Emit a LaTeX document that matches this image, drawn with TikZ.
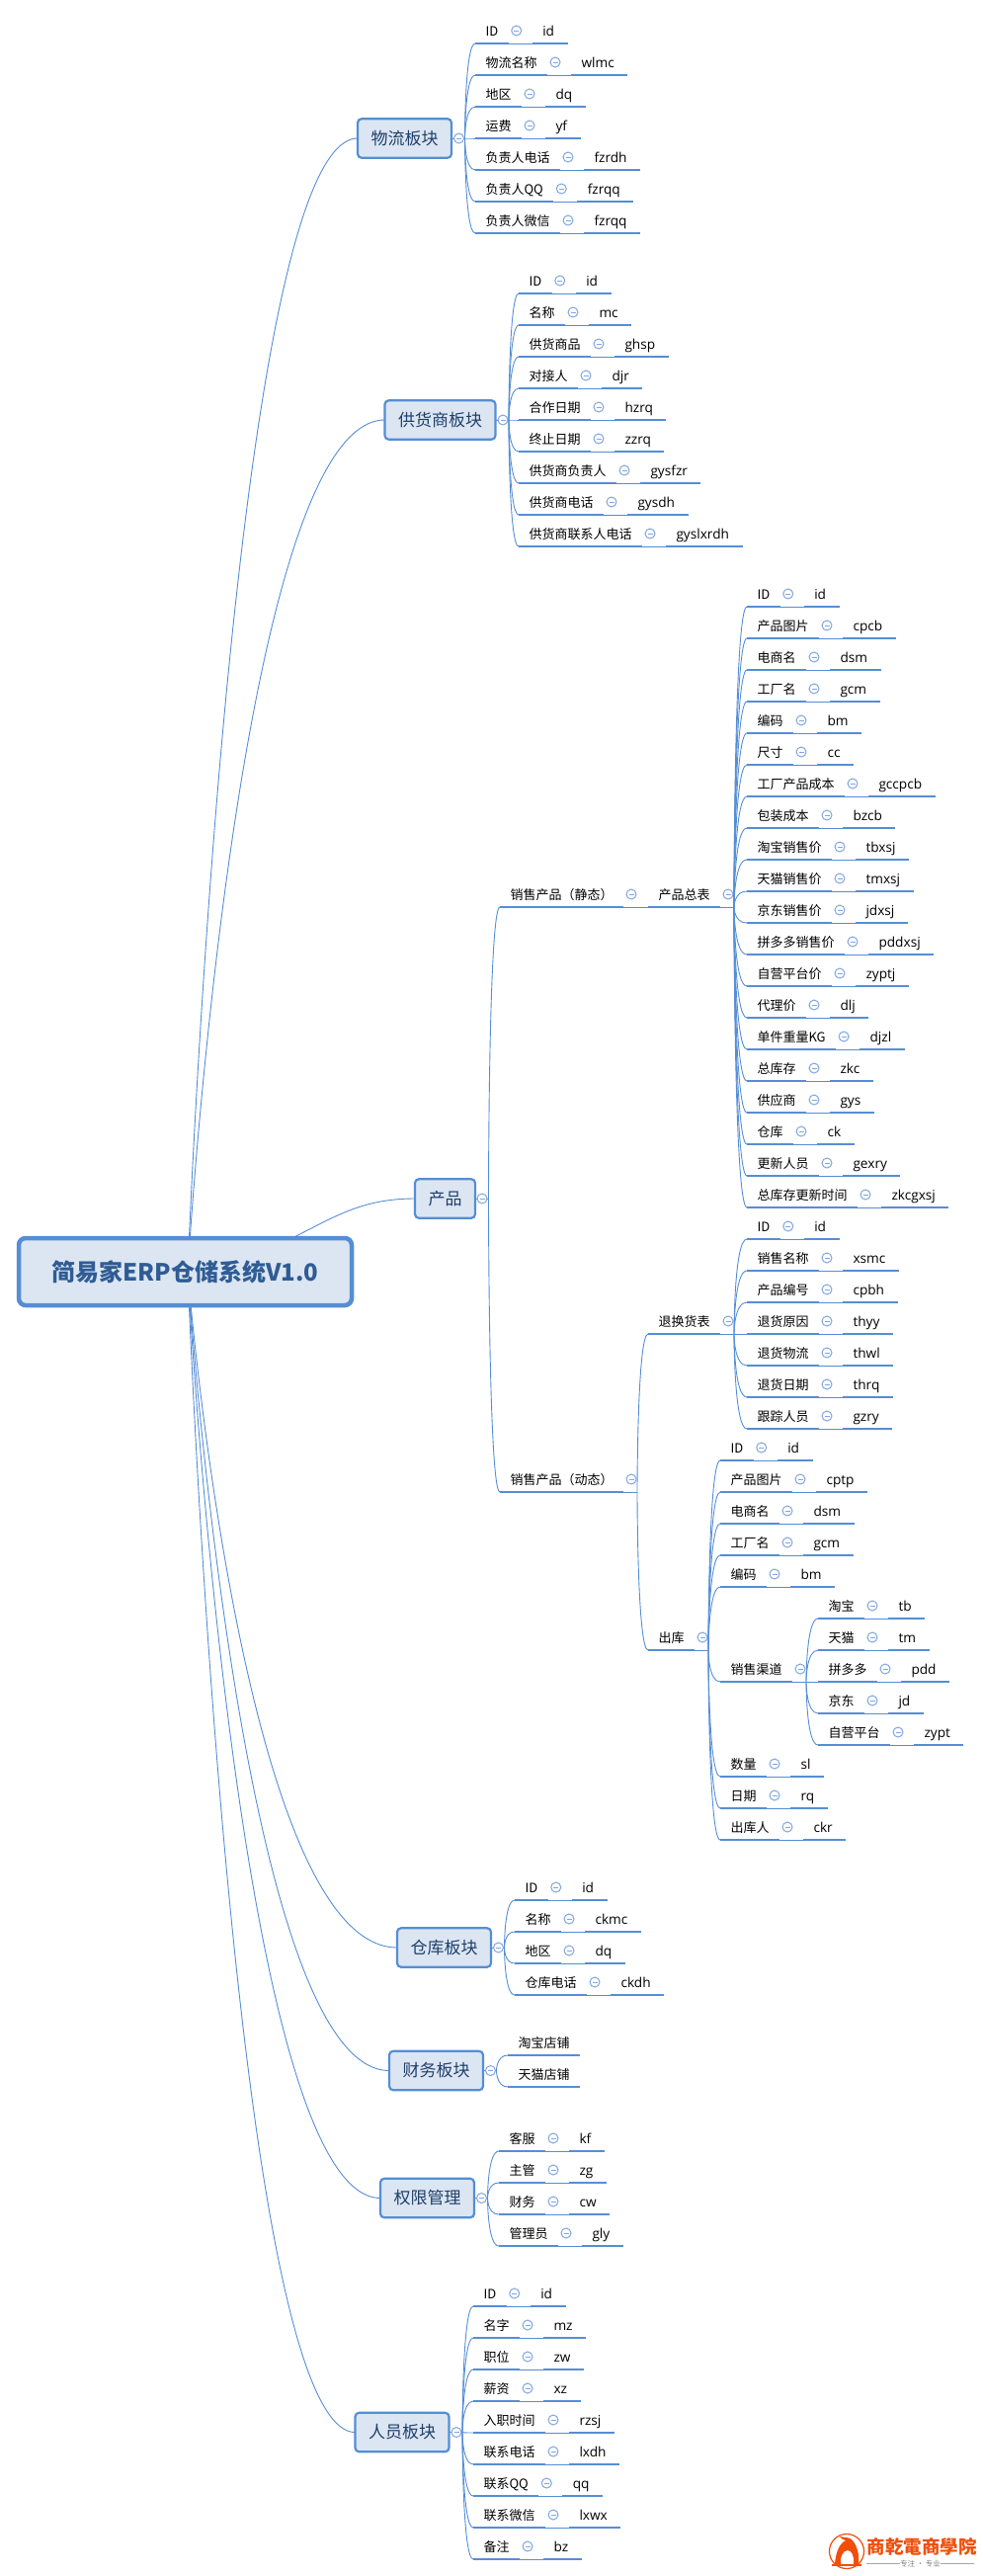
\documentclass[tikz,border=0pt]{standalone}
\usepackage{fontspec}
\setmainfont{Noto Sans CJK SC}
\newfontfamily\valfont{Open Sans}[Scale=1.05]
\definecolor{mapblue}{HTML}{558ED5}
\definecolor{mapfill}{HTML}{DCE6F2}
\definecolor{foldblue}{HTML}{7FA6E0}
\definecolor{topicink}{HTML}{1F3F6B}
\definecolor{rootink}{HTML}{2F5C94}
\definecolor{logored}{HTML}{F04E0A}
\tikzset{
  rowtext/.style={anchor=south west,font=\fontsize{13}{15}\selectfont,inner xsep=10.5pt,inner ysep=5pt,
    outer sep=0pt,text height=10pt,text depth=3pt},
  valtext/.style={rowtext,font=\valfont\fontsize{13}{15}\selectfont},
  topicbox/.style={draw=mapblue,fill=mapfill,line width=2.2pt,rounded corners=4pt,text=topicink,
    font=\fontsize{17}{20}\selectfont,minimum height=39.5pt,inner xsep=13.5pt,outer sep=0pt},
  rootbox/.style={draw=mapblue,fill=mapfill,line width=4.5pt,rounded corners=7pt,text=rootink,
    font=\fontsize{24}{28}\selectfont\bfseries,minimum width=337pt,minimum height=68pt,outer sep=0pt},
  rowline/.style={draw=mapblue,line width=2.6pt},
  thinline/.style={draw=mapblue,line width=0.9pt},
  link/.style={draw=mapblue,line width=0.9pt},
  foldmark/.style={circle,draw=foldblue,fill=white,line width=1pt,minimum size=10pt,inner sep=0pt,
    path picture={\draw[foldblue,line width=1pt] ([xshift=-2.5pt]path picture bounding box.center)
      -- ([xshift=2.5pt]path picture bounding box.center);}},
}
% row: name, x, underline y, bus, label
\newcommand{\rowbase}[5]{
  \node[rowtext] (#1) at (#2,#3) {#5};
  \draw[link] (#4) .. controls (#4) and (#4 |- #1.south west) .. (#1.south west);
  \draw[rowline] (#1.south west) -- (#1.south east);
}
% row with its value: name, x, y, bus, label, value
\newcommand{\leaf}[6]{
  \rowbase{#1}{#2}{#3}{#4}{#5}
  \node[valtext] (#1v) at ([xshift=24pt]#1.south east) {#6\hspace*{3pt}};
  \draw[thinline] (#1.south east) -- (#1v.south west);
  \draw[rowline] (#1v.south west) -- (#1v.south east);
  \node[foldmark] (#1m) at ([xshift=8pt,yshift=13pt]#1.south east) {};
}
% row with branches after it: name, x, y, bus, label, its own bus
\newcommand{\stem}[6]{
  \rowbase{#1}{#2}{#3}{#4}{#5}
  \coordinate (#6) at ([xshift=14pt]#1.south east);
  \draw[thinline] (#1.south east) -- (#6);
  \node[foldmark] (#1m) at ([xshift=8pt,yshift=13pt]#1.south east) {};
}
% block of rows 32 apart: prefix, x, first y, bus, list
\newcommand{\rows}[5]{
  \foreach \lab/\val [count=\i, evaluate=\i as \rowy using #3+32*(\i-1)] in {#5} {
    \leaf{#1\i}{#2}{\rowy}{#4}{\lab}{\val}
  }
}
% topic: name, centre x, centre y, label, bus, control x of the link
\newcommand{\topic}[6]{
  \node[topicbox] (#1) at (#2,#3) {#4};
  \draw[link] (rootc) .. controls (rootc) and (#6,#3) .. (#1.west);
  \coordinate (#5) at ([xshift=13.5pt]#1.east);
  \draw[thinline] (#1.east) -- (#5);
  \node[foldmark] (#1m) at ([xshift=7.5pt]#1.east) {};
}
\begin{document}
\begin{tikzpicture}[x=1pt,y=-1pt]
  \useasboundingbox (0,0) rectangle (994,2607);
  \coordinate (rootc) at (190,1287);

  % topics
  \topic{wuliu}{409.5}{140}{物流板块}{wlbus}{234}
  \topic{gonghuo}{445.5}{425}{供货商板块}{ghbus}{241}
  \node[topicbox] (chanpin) at (450.5,1213) {产品};
  \draw[link] (rootc) .. controls (312,1266) and (330,1213) .. (chanpin.west);
  \coordinate (cpbus) at ([xshift=13.5pt]chanpin.east);
  \draw[thinline] (chanpin.east) -- (cpbus);
  \node[foldmark] (chanpinm) at ([xshift=7pt]chanpin.east) {};
  \topic{cangku}{449.5}{1971}{仓库板块}{ckbus}{245}
  \topic{caiwu}{441.5}{2095.5}{财务板块}{cwbus}{243}
  \topic{quanxian}{432.5}{2224.5}{权限管理}{qxbus}{240}
  \topic{renyuan}{407}{2461.5}{人员板块}{rybus}{234}

  \rows{wl}{481}{44}{wlbus}{ID/id,物流名称/wlmc,地区/dq,运费/yf,负责人电话/fzrdh,负责人QQ/fzrqq,负责人微信/fzrqq}
  \rows{gh}{525}{297}{ghbus}{ID/id,名称/mc,供货商品/ghsp,对接人/djr,合作日期/hzrq,终止日期/zzrq,供货商负责人/gysfzr,供货商电话/gysdh,供货商联系人电话/gyslxrdh}

  % product branches
  \stem{jt}{506}{918}{cpbus}{销售产品（静态）}{jtbus}
  \stem{zb}{656}{918}{jtbus}{产品总表}{zbbus}
  \rows{zb}{756}{614}{zbbus}{ID/id,产品图片/cpcb,电商名/dsm,工厂名/gcm,编码/bm,尺寸/cc,工厂产品成本/gccpcb,包装成本/bzcb,淘宝销售价/tbxsj,天猫销售价/tmxsj,京东销售价/jdxsj,拼多多销售价/pddxsj,自营平台价/zyptj,代理价/dlj,单件重量KG/djzl,总库存/zkc,供应商/gys,仓库/ck,更新人员/gexry,总库存更新时间/zkcgxsj}

  \stem{dt}{506}{1510}{cpbus}{销售产品（动态）}{dtbus}
  \stem{th}{656}{1350}{dtbus}{退换货表}{thbus}
  \rows{th}{756}{1254}{thbus}{ID/id,销售名称/xsmc,产品编号/cpbh,退货原因/thyy,退货物流/thwl,退货日期/thrq,跟踪人员/gzry}

  \stem{cku}{656}{1670}{dtbus}{出库}{cobus}
  \rows{coa}{729}{1478}{cobus}{ID/id,产品图片/cptp,电商名/dsm,工厂名/gcm,编码/bm}
  \stem{qd}{729}{1702}{cobus}{销售渠道}{qdbus}
  \rows{qd}{828}{1638}{qdbus}{淘宝/tb,天猫/tm,拼多多/pdd,京东/jd,自营平台/zypt}
  \rows{cob}{729}{1798}{cobus}{数量/sl,日期/rq,出库人/ckr}

  \rows{ck}{521}{1923}{ckbus}{ID/id,名称/ckmc,地区/dq,仓库电话/ckdh}
  \rowbase{cwa}{514}{2080}{cwbus}{淘宝店铺}
  \rowbase{cwb}{514}{2112}{cwbus}{天猫店铺}
  \rows{qx}{505}{2177}{qxbus}{客服/kf,主管/zg,财务/cw,管理员/gly}
  \rows{ry}{479}{2334}{rybus}{ID/id,名字/mz,职位/zw,薪资/xz,入职时间/rzsj,联系电话/lxdh,联系QQ/qq,联系微信/lxwx,备注/bz}

  \node[rootbox] (root) at (187.5,1287) {简易家ERP仓储系统V1.0};

  % logo
  \node[circle,draw=logored,line width=1.2pt,minimum size=35pt,inner sep=0pt] (seal) at (857,2582) {};
  \fill[logored] (845,2595) .. controls (846,2582) and (850,2574) .. (856,2571)
    .. controls (853,2570) and (851,2569) .. (850,2567) .. controls (855,2568) and (860,2568) .. (862,2570)
    .. controls (868,2576) and (870,2586) .. (869,2595) -- (864,2595) .. controls (865,2587) and (862,2581) .. (858,2581)
    .. controls (853,2581) and (850,2588) .. (851,2595) -- cycle;
  \draw[logored,line width=1.2pt] (842,2596) -- (872,2596);
  \node[text=logored,font=\fontsize{18.5}{20}\selectfont\bfseries,inner sep=0pt] (brand) at (933,2577) {商乾電商學院};
  \node[text=gray,font=\fontsize{7.5}{9}\selectfont,inner sep=0pt] (slogan) at (931.5,2594.5) {专注 · 专业};
  \coordinate (sla) at (877,2594.5);
  \coordinate (slb) at (986,2594.5);
  \draw[gray!70,line width=0.9pt] (sla) -- (slogan.west);
  \draw[gray!70,line width=0.9pt] (slogan.east) -- (slb);
\end{tikzpicture}
\end{document}
